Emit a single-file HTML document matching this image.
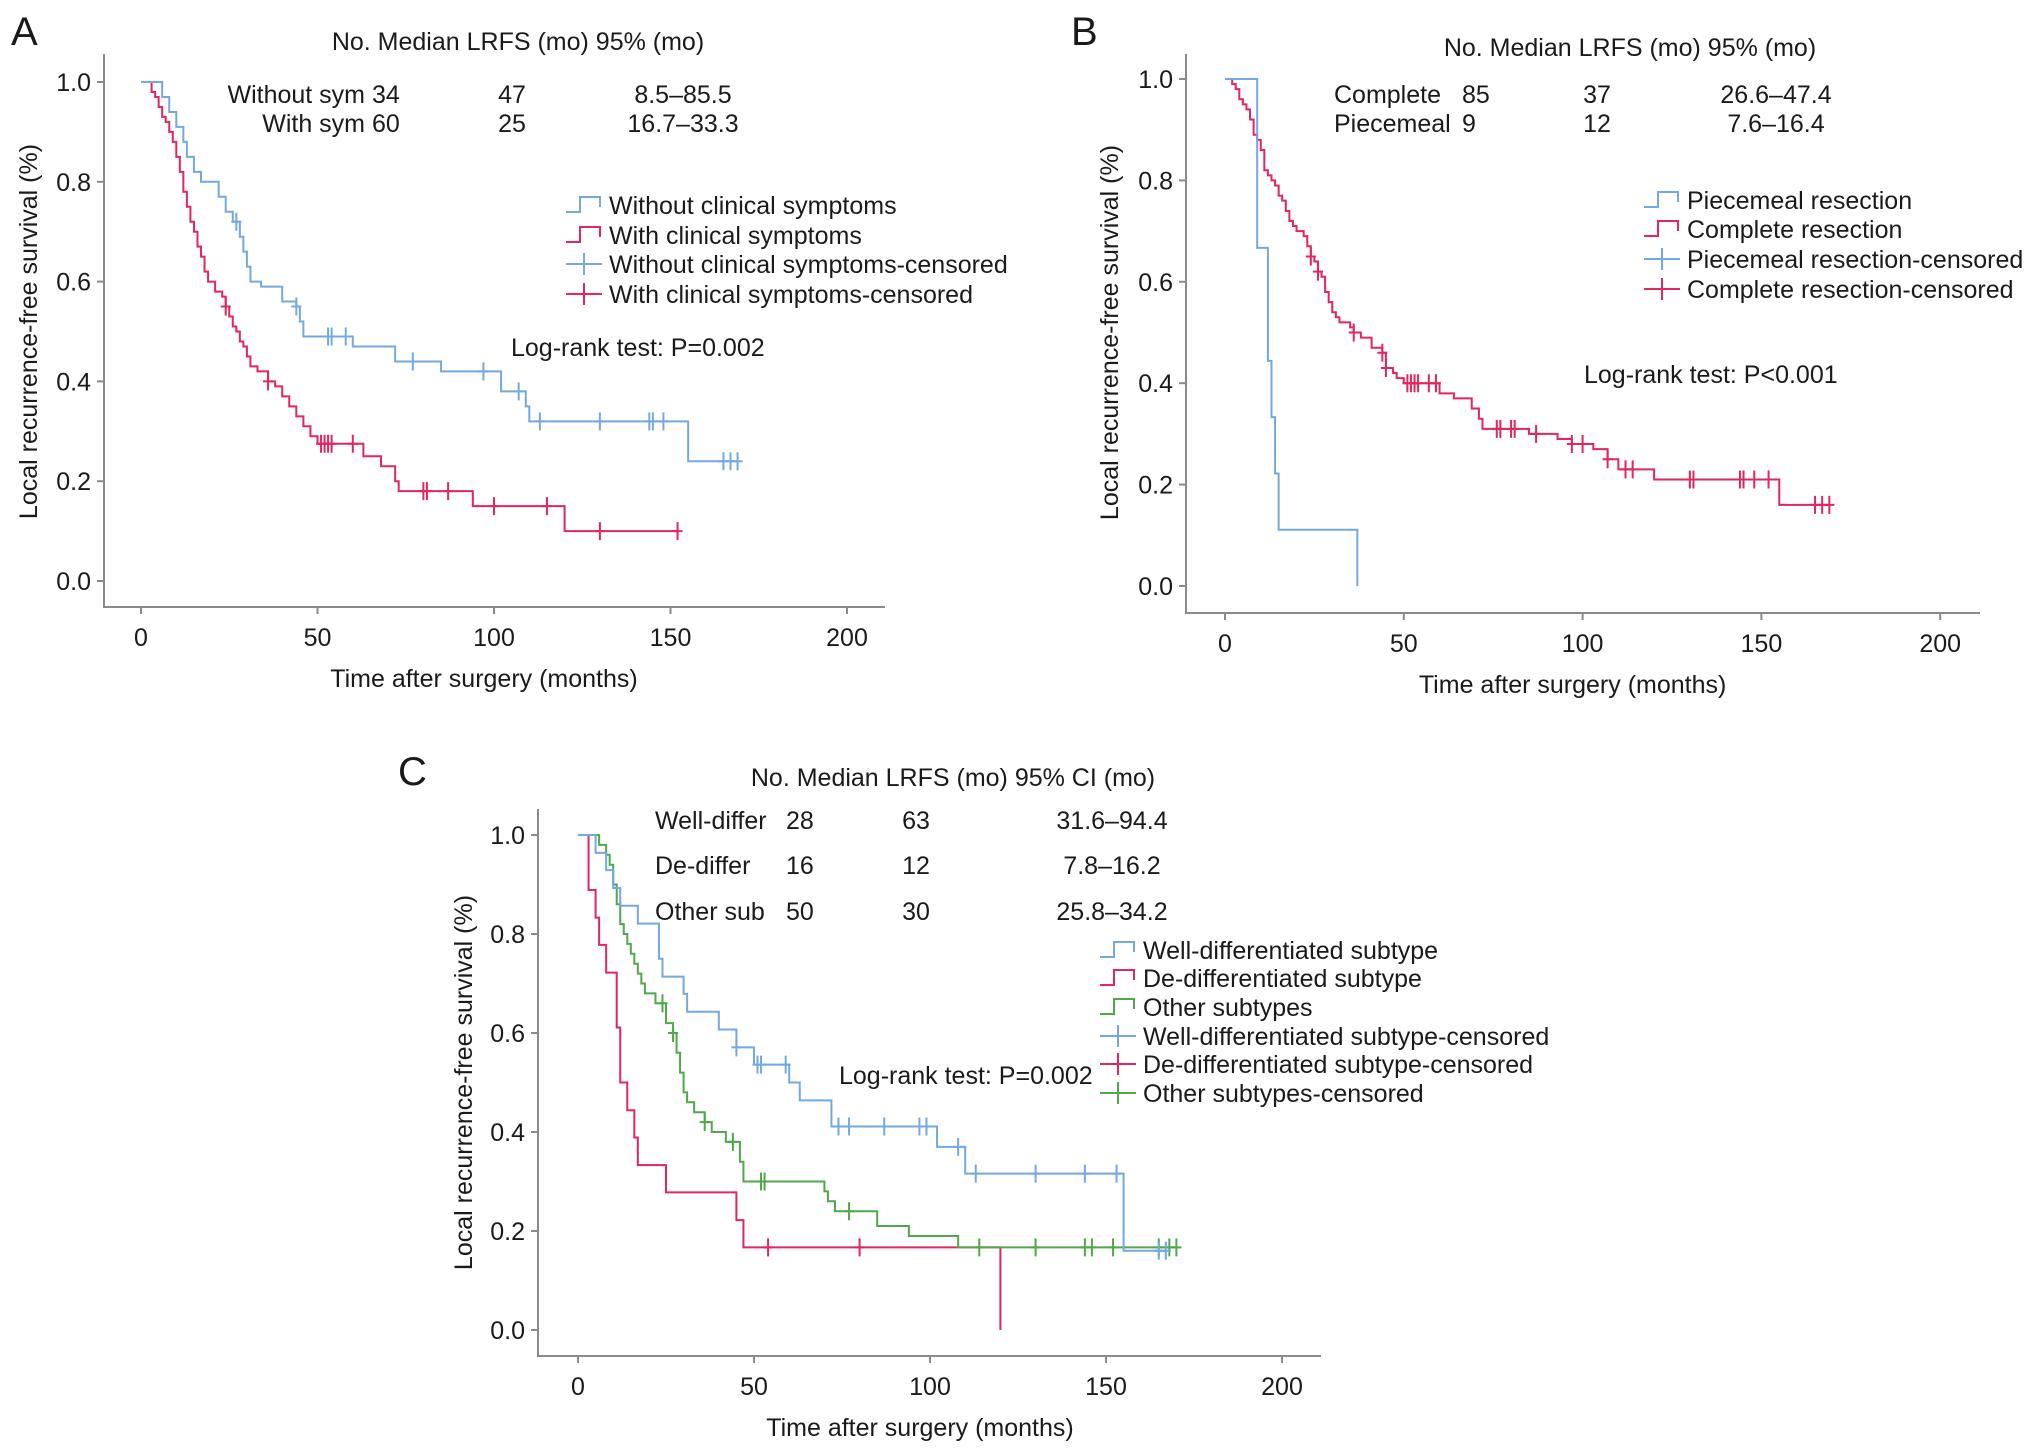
<!DOCTYPE html>
<html><head><meta charset="utf-8"><style>
html,body{margin:0;padding:0;background:#fff;}
svg{display:block;font-family:"Liberation Sans",Arial,sans-serif;}
</style></head><body>
<svg id="fig" width="2032" height="1451" viewBox="0 0 2032 1451"></svg>
<script>
// ===== Panel A data =====
const aBlueT=[6,8,10,12,13,15,17,22,24,26,28,29,30,31,34,40,44,45,46,60,72,85,102,109,110,155];
const aBlueS=[0.97,0.94,0.91,0.88,0.85,0.82,0.80,0.77,0.74,0.72,0.69,0.66,0.63,0.60,0.59,0.56,0.55,0.52,0.49,0.47,0.44,0.42,0.38,0.35,0.32,0.24];
const aBlueC=[27,44,53,54,58,77,97,107,113,130,144,145,148,165,167,169];
const aRedT=[3,4,5,6,7,8,9,10,11,12,13,14,15,16,17,18,19,21,23,24,25,26,27,28,29,30,31,33,36,38,40,42,44,46,48,50,63,68,72,73,94,120];
const aRedS=[0.98,0.97,0.95,0.93,0.92,0.90,0.88,0.85,0.82,0.78,0.75,0.72,0.70,0.67,0.65,0.62,0.60,0.58,0.57,0.55,0.53,0.51,0.50,0.48,0.47,0.45,0.43,0.42,0.40,0.39,0.37,0.35,0.33,0.31,0.29,0.275,0.25,0.23,0.20,0.18,0.15,0.10];
const aRedC=[24,36,51,52,53,54,60,80,81,87,100,115,130,152];
// ===== Panel B data =====
const bBlueT=[9,12,13,14,15,37];
const bBlueS=[0.667,0.444,0.333,0.222,0.111,0.0];
const bBlueC=[];
const bRedT=[2,3,4,5,6,7,8,9,10,11,12,13,14,15,16,17,18,19,20,22,23,24,25,26,27,28,29,30,31,32,35,36,38,41,44,45,47,48,50,60,64,69,71,72,85,93,97,103,107,110,120,155];
const bRedS=[0.99,0.98,0.96,0.95,0.94,0.92,0.89,0.88,0.86,0.82,0.81,0.80,0.79,0.77,0.76,0.74,0.72,0.71,0.70,0.69,0.67,0.65,0.64,0.62,0.61,0.58,0.56,0.54,0.53,0.52,0.51,0.50,0.49,0.47,0.46,0.43,0.42,0.41,0.40,0.38,0.37,0.35,0.33,0.31,0.30,0.29,0.28,0.27,0.25,0.23,0.21,0.16];
const bRedC=[24,26,36,44,45,51,52,53,54,57,59,76,77,80,81,87,97,100,107,112,114,130,131,144,145,148,152,165,167,169];
// ===== Panel C data =====
const cBlueT=[5,8,10,12,17,23,24,30,31,40,45,50,60,63,72,102,110,155];
const cBlueS=[0.964,0.929,0.893,0.857,0.821,0.75,0.714,0.679,0.643,0.607,0.571,0.536,0.50,0.464,0.411,0.37,0.316,0.16];
const cBlueC=[45,51,52,59,74,77,87,97,99,108,113,130,144,153,165,167];
const cRedT=[3,5,6,8,11,12,14,16,17,25,45,47,120];
const cRedS=[0.889,0.833,0.778,0.722,0.611,0.5,0.444,0.389,0.333,0.278,0.222,0.167,0.0];
const cRedC=[54,80];
const cGreenT=[6,8,9,10,11,12,13,14,15,16,17,18,19,22,25,27,28,29,30,31,33,36,38,42,46,47,70,71,73,85,94,108];
const cGreenS=[0.98,0.96,0.94,0.90,0.86,0.82,0.80,0.78,0.76,0.74,0.72,0.70,0.68,0.66,0.62,0.60,0.56,0.52,0.48,0.46,0.44,0.42,0.40,0.38,0.34,0.30,0.28,0.26,0.24,0.21,0.19,0.167];
const cGreenC=[24,27,36,44,52,53,77,114,130,144,146,152,165,168,170];
const xTicks=[0,50,100,150,200];
const yTicks=[0,0.2,0.4,0.6,0.8,1.0];

const NS="http://www.w3.org/2000/svg";
const svg=document.getElementById('fig');
const BLUE="#74a9e0",RED="#e2265f",GREEN="#4fa84a",AX="#8a8a8a";
function el(tag,attrs,parent){const e=document.createElementNS(NS,tag);for(const k in attrs)e.setAttribute(k,attrs[k]);(parent||svg).appendChild(e);return e;}
function txt(s,x,y,anchor,size,parent){const t=el('text',{x:x,y:y,'text-anchor':anchor||'start','font-size':size||24,fill:'#1a1a1a'},parent);t.textContent=s;return t;}

function panel(P){
  const g=el('g',{});
  
  
  const sx=v=>P.x0+v*P.pxPer50/50, sy=v=>P.y0-(P.y0-P.y1)*v;
  const ax=el('path',{d:`M${P.axL} ${P.axT} V${P.axB} H${P.axR}`,stroke:AX,'stroke-width':2,fill:'none'},g);
  
  
  xTicks.forEach(v=>{el('line',{x1:sx(v),x2:sx(v),y1:P.axB,y2:P.axB+7,stroke:AX,'stroke-width':2},g);
    const t=txt(String(v),sx(v),P.axB+39,'middle',25,g);
    
    });
  yTicks.forEach(v=>{el('line',{x1:P.axL-7,x2:P.axL,y1:sy(v),y2:sy(v),stroke:AX,'stroke-width':2},g);
    const t=txt(v.toFixed(1),P.axL-13,sy(v)+9,'end',25,g);
    
    });
  const xt=txt('Time after surgery (months)',(sx(0)+sx(200))/2-10,P.axB+80,'middle',25,g);
  
  
  const yt=txt('Local recurrence-free survival (%)',0,0,'middle',25,g);
  yt.setAttribute('transform',`translate(${P.ytX},${(sy(0)+sy(1))/2}) rotate(-90)`);
  
  
  const lb=txt(P.letter,P.letX,P.letY,'start',40,g);
  
  
  P.series.forEach(S=>{
    let d=`M${sx(0)} ${sy(1)}`;
    S.t.forEach((t,i)=>{d+=` H${sx(t)} V${sy(S.s[i])}`;});
    const endT=Math.max(S.t[S.t.length-1],S.c.length?S.c[S.c.length-1]:0);
    d+=` H${sx(endT)}`;
    const p=el('path',{d:d,stroke:S.color,'stroke-width':2,fill:'none'},g);
    
    
    S.c.forEach(c=>{let v=1;S.t.forEach((t,i)=>{if(t<=c)v=S.s[i];});
      const m=el('path',{d:`M${sx(c)} ${sy(v)-9} V${sy(v)+9} M${sx(c)-5} ${sy(v)} H${sx(c)+5}`,stroke:S.color,'stroke-width':2},g);
      
      });
  });
  const h=txt(P.header,P.hX,P.hY,'middle',25,g);
  
  
  P.rows.forEach((r,i)=>{
    r.forEach((c,j)=>{const t=txt(c,P.cols[j][0],P.rowY[i],P.cols[j][1],25,g);
      
      });
  });
  P.legend.forEach((L,i)=>{
    const y=P.legY[i]; const x=P.legX;
    const lg=el('g',{},g);
    
    
    if(L.censor) el('path',{d:`M${x} ${y} H${x+36} M${x+18} ${y-11} V${y+11}`,stroke:L.color,'stroke-width':2,fill:'none'},lg);
    else el('path',{d:`M${x} ${y+7} H${x+14} V${y-8} H${x+34} V${y+2}`,stroke:L.color,'stroke-width':2,fill:'none'},lg);
    txt(L.label,x+43,y+9,'start',25,lg);
  });
  const lr=txt(P.logrank,P.lrX,P.lrY,'start',25,g);
  
  
}

panel({name:'panel-a',letter:'A',letX:11,letY:45,x0:141,pxPer50:176.5,y0:581,y1:82,axL:104,axR:885,axT:54,axB:607,ytX:37,
  header:'No. Median LRFS (mo) 95% (mo)',hX:518,hY:50,
  rows:[['Without sym','34','47','8.5–85.5'],['With sym','60','25','16.7–33.3']],
  cols:[[365,'end'],[372,'start'],[512,'middle'],[683,'middle']],rowY:[103,132],
  legend:[{label:'Without clinical symptoms',color:BLUE},{label:'With clinical symptoms',color:RED},{label:'Without clinical symptoms-censored',color:BLUE,censor:1},{label:'With clinical symptoms-censored',color:RED,censor:1}],
  legX:566,legY:[205,235,264,294],lrX:511,lrY:356,logrank:'Log-rank test: P=0.002',
  series:[{id:'with-symptoms',t:aRedT,s:aRedS,c:aRedC,color:RED},{id:'without-symptoms',t:aBlueT,s:aBlueS,c:aBlueC,color:BLUE}]
});
panel({name:'panel-b',letter:'B',letX:1071,letY:45,x0:1225,pxPer50:178.8,y0:586,y1:79,axL:1186,axR:1980,axT:54,axB:613,ytX:1118,
  header:'No. Median LRFS (mo) 95% (mo)',hX:1630,hY:56,
  rows:[['Complete','85','37','26.6–47.4'],['Piecemeal','9','12','7.6–16.4']],
  cols:[[1334,'start'],[1462,'start'],[1597,'middle'],[1776,'middle']],rowY:[103,132],
  legend:[{label:'Piecemeal resection',color:BLUE},{label:'Complete resection',color:RED},{label:'Piecemeal resection-censored',color:BLUE,censor:1},{label:'Complete resection-censored',color:RED,censor:1}],
  legX:1644,legY:[200,229,259,289],lrX:1584,lrY:383,logrank:'Log-rank test: P<0.001',
  series:[{id:'complete-resection',t:bRedT,s:bRedS,c:bRedC,color:RED},{id:'piecemeal-resection',t:bBlueT,s:bBlueS,c:bBlueC,color:BLUE}]
});
panel({name:'panel-c',letter:'C',letX:398,letY:785,x0:578,pxPer50:176,y0:1330,y1:835,axL:538,axR:1321,axT:809,axB:1356,ytX:472,
  header:'No. Median LRFS (mo) 95% CI (mo)',hX:953,hY:786,
  rows:[['Well-differ','28','63','31.6–94.4'],['De-differ','16','12','7.8–16.2'],['Other sub','50','30','25.8–34.2']],
  cols:[[655,'start'],[786,'start'],[916,'middle'],[1112,'middle']],rowY:[829,874,920],
  legend:[{label:'Well-differentiated subtype',color:BLUE},{label:'De-differentiated subtype',color:RED},{label:'Other subtypes',color:GREEN},{label:'Well-differentiated subtype-censored',color:BLUE,censor:1},{label:'De-differentiated subtype-censored',color:RED,censor:1},{label:'Other subtypes-censored',color:GREEN,censor:1}],
  legX:1100,legY:[950,978,1007,1036,1064,1093],lrX:839,lrY:1084,logrank:'Log-rank test: P=0.002',
  series:[{id:'de-differentiated',t:cRedT,s:cRedS,c:cRedC,color:RED},{id:'other-subtypes',t:cGreenT,s:cGreenS,c:cGreenC,color:GREEN},{id:'well-differentiated',t:cBlueT,s:cBlueS,c:cBlueC,color:BLUE}]
});
</script>
</body></html>
